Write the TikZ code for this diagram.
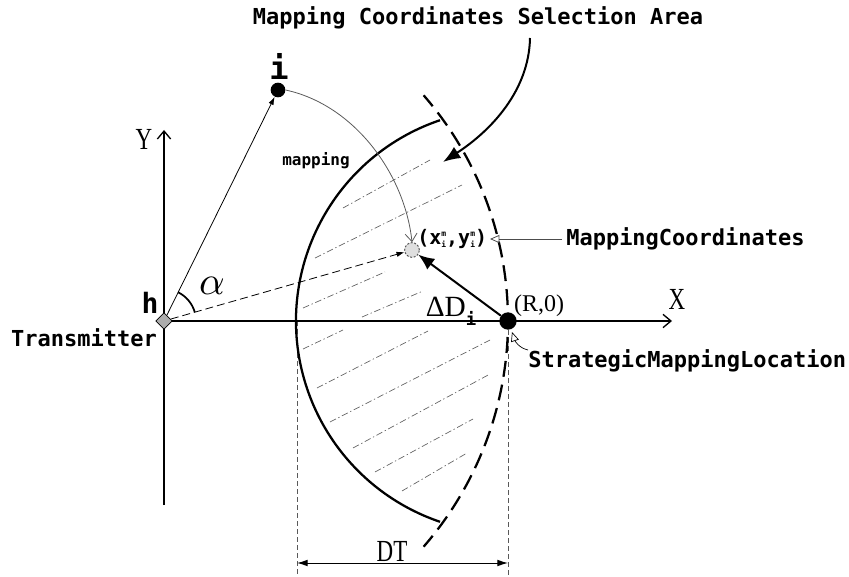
\documentclass[tikz,border=0pt]{standalone}
\usepackage{fontspec}
\usetikzlibrary{arrows.meta,shapes.geometric}
\newfontfamily\monob{DejaVu Sans Mono}
\newfontfamily\serifc[FakeStretch=0.75]{Liberation Serif}
\newfontfamily\serifn{Liberation Serif}
\newcommand{\mysbsp}[2]{\raisebox{1.8pt}{\fontsize{6pt}{6.5pt}\selectfont\begin{tabular}{@{}c@{}}#1\\[2pt]#2\end{tabular}}}
\begin{document}
\begin{tikzpicture}[x=0.75pt,y=-0.75pt,
  axis/.style={line width=1.4pt,-{Straight Barb[length=6pt,width=10pt,line width=1pt]}},
  hatchline/.style={gray!75!black,line width=0.5pt,dash pattern=on 5pt off 2pt on 1pt off 2pt},
  guide/.style={gray!70!black,line width=0.5pt,dash pattern=on 4pt off 2pt},
  monolbl/.style={font=\monob\bfseries\fontsize{16.5pt}{18pt}\selectfont,inner sep=0pt},
  seriflbl/.style={font=\serifc\fontsize{23pt}{25pt}\selectfont,inner sep=0pt},
  dotnode/.style={circle,fill=black,inner sep=0pt}]
\useasboundingbox (0,0) rectangle (849,577);
% reference points
\coordinate (O) at (164,321);
\coordinate (C) at (508,321);
% hatching
\foreach \a/\b in {{343,208}/{430,160},{315,258}/{462,185},{303,308}/{385,272},{362,317}/{423,291},
  {303,349}/{343,330},{317,388}/{428,331},{330,422}/{490,340},{353,448}/{490,374},{375,472}/{473,419},{402,491}/{467,453}}
  \draw[hatchline] (\a) -- (\b);
% vertical guides and DT
\coordinate (gl) at (297,321);
\coordinate (gr) at (508,330);
\coordinate (glb) at (297,577);
\coordinate (grb) at (508,577);
\draw[guide] (gl) -- (glb);
\draw[guide] (gr) -- (grb);
\coordinate (dtl) at (297,563);
\coordinate (dtr) at (508,563);
\draw[line width=0.7pt,{Latex[length=8pt,width=5pt]}-{Latex[length=8pt,width=5pt]}] (dtl) -- (dtr);
\node[seriflbl] (dt) at (392,551) {DT};
% axes
\coordinate (ybot) at (164,505);
\coordinate (ytop) at (164,130);
\coordinate (xend) at (672,321);
\draw[axis] (ybot) -- (ytop);
\draw[axis] (O) -- (xend);
\node[seriflbl] (ylbl) at (144,139) {Y};
\node[seriflbl] (xlbl) at (677,299) {X};
% arcs
\draw[line width=1.7pt] (C) ++(251.3:212) arc[start angle=251.3,end angle=108.7,radius=212];
\draw[line width=1.7pt,dash pattern=on 12pt off 6pt,dash phase=6pt] (C) arc[start angle=0,end angle=-41,radius=344];
\draw[line width=1.7pt,dash pattern=on 12pt off 6pt,dash phase=6pt] (C) arc[start angle=0,end angle=41,radius=344];
% nodes
\node[diamond,draw=black,fill=gray!65,line width=0.6pt,minimum size=12.5pt,inner sep=0pt] (tx) at (O) {};
\node[dotnode,minimum size=11pt] (pi) at (278,90) {};
\node[monolbl,font=\monob\bfseries\fontsize{24pt}{26pt}\selectfont] (ilbl) at (279,66) {i};
\node[dotnode,minimum size=13pt] (pr) at (C) {};
\node[circle,draw=black!70,dash pattern=on 1.5pt off 1.2pt,fill=gray!25,line width=0.7pt,minimum size=11pt,inner sep=0pt] (m) at (412,250) {};
% connectors
\draw[line width=0.6pt,-{Latex[length=6pt,width=4pt]}] (tx) -- (pi);
\draw[line width=0.6pt,dash pattern=on 6pt off 3pt,-{Latex[length=6pt,width=4pt]}] (tx) -- (m);
\draw[line width=1.5pt,-{Latex[length=12pt,width=10pt]}] (pr) -- (m);
\draw[gray!70!black,line width=0.6pt,-{Straight Barb[length=6pt,width=9pt]}] (pi.east) .. controls (355,105) and (405,175) .. (m.north);
\draw[line width=1.3pt] (O) ++(-16:32) arc[start angle=-16,end angle=-63.5,radius=32];
\node[scale=3,inner sep=0pt] (alpha) at (212,286) {$\alpha$};
% labels
\node[monolbl] (title) at (478,18) {Mapping Coordinates Selection Area};
\coordinate (ta) at (530,38);
\coordinate (tb) at (443,162);
\draw[line width=1.5pt,-{Latex[length=13pt,width=10pt]}] (ta) .. controls (529,90) and (492,130) .. (tb);
\node[monolbl,font=\monob\bfseries\fontsize{12pt}{13pt}\selectfont] (mp) at (316,161) {mapping};
\node[monolbl] (tr) at (84,338) {Transmitter};
\node[monolbl,font=\monob\bfseries\fontsize{21pt}{22pt}\selectfont] (h) at (150,303) {h};
\node[monolbl,anchor=west,font=\monob\bfseries\fontsize{15pt}{18pt}\selectfont] (xy) at (417,240) {(x\mysbsp{m}{i},y\mysbsp{m}{i})};
\node[monolbl,anchor=west] (mc) at (566,239) {MappingCoordinates};
\draw[gray!60!black,line width=0.6pt,-{Triangle[open,length=7pt,width=6pt]}] (mc.west) ++(-4,0) coordinate (mcs) -- (490,239);
\node[monolbl,anchor=west] (sml) at (528,361) {StrategicMappingLocation};
\coordinate (ss) at (528,350);
\draw[black,line width=0.5pt,-{Triangle[open,length=7pt,width=6pt]}] (ss) .. controls (519,348) and (515,341) .. (512,332);
\node[font=\serifn\fontsize{22pt}{24pt}\selectfont,inner sep=0pt] (dd) at (451,311) {ΔD\raisebox{-0.3em}{\monob\bfseries\fontsize{13pt}{13pt}\selectfont i}};
\node[font=\serifn\fontsize{18pt}{20pt}\selectfont,inner sep=0pt] (r0) at (539,306) {(R,0)};
\end{tikzpicture}
\end{document}
